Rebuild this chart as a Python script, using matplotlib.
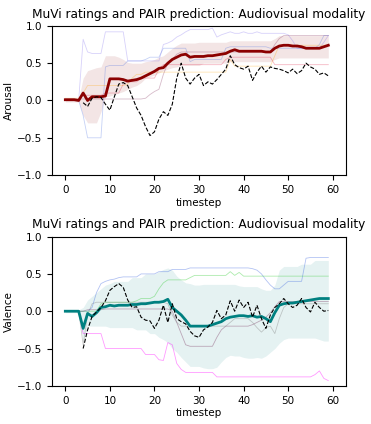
import matplotlib
matplotlib.use("Agg")
import matplotlib.pyplot as plt
import numpy as np

nan = np.nan
timestep = np.arange(60)

# ---- arousal (top) ----
arousal_pred = [nan, nan, nan, nan, -0.03, -0.08, 0.03, 0.05, 0.04, -0.05,
                -0.13, 0.05, 0.22, 0.24, 0.2, 0.05, -0.1, -0.2, -0.35, -0.47,
                -0.42, -0.25, -0.15, -0.2, -0.05, 0.3, 0.5, 0.3, 0.22, 0.3,
                0.35, 0.2, 0.25, 0.22, 0.28, 0.35, 0.42, 0.6, 0.48, 0.44,
                0.42, 0.46, 0.27, 0.38, 0.46, 0.38, 0.45, 0.43, 0.42, 0.4,
                0.37, 0.42, 0.36, 0.4, 0.5, 0.45, 0.42, 0.35, 0.37, 0.33]
arousal_mean = [0.01, 0.01, 0.01, 0.0, 0.1, 0.0, 0.05, 0.05, 0.05, 0.06,
                0.29, 0.29, 0.29, 0.28, 0.26, 0.27, 0.28, 0.3, 0.33, 0.36,
                0.39, 0.43, 0.44, 0.5, 0.55, 0.58, 0.61, 0.62, 0.58, 0.59,
                0.59, 0.59, 0.6, 0.6, 0.61, 0.62, 0.63, 0.66, 0.68, 0.66,
                0.66, 0.66, 0.66, 0.66, 0.66, 0.65, 0.65, 0.7, 0.73, 0.74,
                0.74, 0.73, 0.73, 0.72, 0.7, 0.7, 0.7, 0.7, 0.72, 0.74]
arousal_upper = [0.03, 0.03, 0.03, 0.03, 0.3, 0.4, 0.42, 0.44, 0.45, 0.6,
                 0.6, 0.6, 0.58, 0.55, 0.51, 0.5, 0.5, 0.5, 0.52, 0.53,
                 0.55, 0.58, 0.6, 0.65, 0.7, 0.74, 0.77, 0.77, 0.77, 0.77,
                 0.78, 0.78, 0.78, 0.78, 0.78, 0.78, 0.78, 0.8, 0.8, 0.8,
                 0.8, 0.8, 0.8, 0.8, 0.8, 0.8, 0.8, 0.83, 0.87, 0.87,
                 0.87, 0.87, 0.87, 0.87, 0.87, 0.87, 0.87, 0.87, 0.87, 0.87]
arousal_lower = [-0.02, -0.02, -0.02, -0.02, -0.2, -0.3, -0.3, -0.3, -0.15, 0.05,
                 0.06, 0.08, 0.1, 0.12, 0.15, 0.18, 0.2, 0.24, 0.3, 0.32,
                 0.34, 0.37, 0.4, 0.42, 0.44, 0.45, 0.47, 0.47, 0.47, 0.47,
                 0.47, 0.5, 0.5, 0.5, 0.5, 0.5, 0.5, 0.52, 0.52, 0.52,
                 0.52, 0.52, 0.52, 0.52, 0.52, 0.52, 0.52, 0.55, 0.57, 0.57,
                 0.57, 0.57, 0.57, 0.57, 0.57, 0.57, 0.57, 0.57, 0.57, 0.57]
arousal_raters = {
    "mediumslateblue": [0, 0, 0, 0, 0.82, 0.65, 0.63, 0.63, 0.63, 0.92,
                        0.92, 0.92, 0.92, 0.92, 0.53, 0.53, 0.53, 0.53, 0.53, 0.53,
                        0.53, 0.53, 0.75, 0.77, 0.8, 0.85, 0.88, 0.92, 0.95, 0.95,
                        0.95, 0.95, 0.95, 0.97, 0.85, 0.88, 0.9, 0.92, 0.9, 0.9,
                        0.92, 0.9, 0.9, 0.92, 0.9, 0.9, 0.9, 0.9, 0.9, 0.9,
                        0.88, 0.8, 0.7, 0.7, 0.7, 0.7, 0.7, 0.7, 0.78, 0.87],
    "royalblue": [0, 0, 0, 0, -0.2, -0.5, -0.5, -0.5, -0.5, 0.45,
                  0.47, 0.47, 0.47, 0.47, 0.53, 0.53, 0.53, 0.53, 0.55, 0.58,
                  0.58, 0.58, 0.7, 0.7, 0.7, 0.7, 0.7, 0.7, 0.52, 0.55,
                  0.55, 0.55, 0.55, 0.55, 0.55, 0.55, 0.7, 0.72, 0.72, 0.72,
                  0.72, 0.72, 0.72, 0.72, 0.72, 0.72, 0.7, 0.7, 0.7, 0.7,
                  0.7, 0.7, 0.7, 0.7, 0.7, 0.7, 0.7, 0.75, 0.87, 0.87],
    "orange": [0.03, 0.03, 0.03, 0.03, 0.1, 0.2, 0.2, 0.2, 0.2, 0.2,
               0.2, 0.2, 0.2, 0.2, 0.22, 0.3, 0.35, 0.35, 0.38, 0.38,
               0.38, 0.38, 0.38, 0.38, 0.38, 0.38, 0.38, 0.38, 0.38, 0.38,
               0.38, 0.38, 0.38, 0.38, 0.38, 0.38, 0.38, 0.55, 0.46, 0.46,
               0.46, 0.46, 0.46, 0.46, 0.46, 0.46, 0.46, 0.6, 0.74, 0.74,
               0.74, 0.74, 0.74, 0.74, 0.74, 0.74, 0.74, 0.74, 0.74, 0.74],
    "crimson": [0, 0, 0, 0, 0.07, 0.07, 0.07, 0.07, 0.07, 0.1,
                0.1, 0.1, 0.1, 0.22, 0.25, 0.25, 0.25, 0.3, 0.3, 0.3,
                0.3, 0.42, 0.48, 0.48, 0.48, 0.48, 0.48, 0.48, 0.48, 0.48,
                0.48, 0.48, 0.48, 0.48, 0.48, 0.48, 0.55, 0.58, 0.58, 0.58,
                0.58, 0.58, 0.58, 0.58, 0.58, 0.58, 0.58, 0.48, 0.48, 0.48,
                0.48, 0.48, 0.48, 0.48, 0.48, 0.48, 0.48, 0.48, 0.48, 0.48],
    "#7a1f4f": [0.02, 0.02, 0.02, 0.02, 0.02, 0.02, 0.02, 0.02, 0.02, 0.02,
                0.02, 0.02, 0.02, 0.02, 0.02, 0.02, 0.02, 0.02, 0.03, 0.08,
                0.12, 0.15, 0.35, 0.5, 0.55, 0.62, 0.65, 0.65, 0.65, 0.65,
                0.65, 0.65, 0.65, 0.65, 0.65, 0.65, 0.65, 0.65, 0.65, 0.65,
                0.65, 0.65, 0.65, 0.65, 0.65, 0.65, 0.65, 0.75, 0.83, 0.87,
                0.87, 0.87, 0.87, 0.87, 0.87, 0.87, 0.87, 0.87, 0.87, 0.87],
}

# ---- valence (bottom) ----
valence_pred = [nan, nan, nan, nan, -0.5, -0.25, -0.07, -0.01, 0.05, 0.14,
                0.28, 0.33, 0.37, 0.32, 0.15, 0.05, 0.06, -0.08, -0.12, -0.13,
                -0.23, -0.12, 0.08, -0.15, 0.1, -0.1, -0.14, -0.17, -0.27, -0.33,
                -0.35, -0.25, -0.21, -0.15, 0.01, -0.1, -0.05, 0.14, 0.0, 0.15,
                0.05, 0.12, -0.08, 0.08, -0.1, -0.23, -0.05, 0.05, 0.1, 0.17,
                0.1, 0.05, 0.08, 0.17, 0.05, -0.01, 0.12, 0.05, 0.0, 0.01]
valence_mean = [0.0, 0.0, 0.0, 0.0, -0.23, -0.03, -0.07, -0.02, 0.05, 0.06,
                0.08, 0.07, 0.08, 0.08, 0.08, 0.09, 0.09, 0.1, 0.1, 0.11,
                0.12, 0.12, 0.13, 0.16, 0.05, 0.0, -0.05, -0.12, -0.2, -0.2,
                -0.2, -0.2, -0.2, -0.18, -0.16, -0.14, -0.1, -0.08, -0.07, -0.06,
                -0.06, -0.07, -0.06, -0.08, -0.07, -0.1, -0.14, -0.02, 0.08, 0.1,
                0.11, 0.11, 0.12, 0.13, 0.14, 0.15, 0.16, 0.17, 0.17, 0.17]
valence_upper = [0.02, 0.02, 0.02, 0.02, 0.05, 0.15, 0.2, 0.25, 0.3, 0.35,
                 0.37, 0.4, 0.4, 0.4, 0.4, 0.45, 0.45, 0.45, 0.5, 0.5,
                 0.5, 0.53, 0.56, 0.58, 0.55, 0.47, 0.42, 0.38, 0.37, 0.35,
                 0.35, 0.36, 0.36, 0.36, 0.36, 0.36, 0.36, 0.36, 0.36, 0.34,
                 0.33, 0.33, 0.33, 0.33, 0.3, 0.28, 0.28, 0.35, 0.55, 0.6,
                 0.6, 0.6, 0.6, 0.63, 0.63, 0.63, 0.68, 0.68, 0.68, 0.68]
valence_lower = [-0.02, -0.02, -0.02, -0.02, -0.4, -0.2, -0.2, -0.2, -0.2, -0.2,
                 -0.22, -0.22, -0.22, -0.22, -0.22, -0.22, -0.25, -0.25, -0.25, -0.3,
                 -0.3, -0.35, -0.38, -0.42, -0.5, -0.55, -0.62, -0.68, -0.74, -0.74,
                 -0.74, -0.76, -0.77, -0.77, -0.75, -0.68, -0.62, -0.59, -0.6, -0.6,
                 -0.62, -0.63, -0.63, -0.62, -0.63, -0.6, -0.55, -0.5, -0.43, -0.38,
                 -0.36, -0.36, -0.36, -0.36, -0.36, -0.36, -0.36, -0.38, -0.4, -0.4]
valence_raters = {
    "royalblue": [0, 0, 0, 0, 0, 0, 0.05, 0.25, 0.37, 0.4,
                  0.42, 0.43, 0.45, 0.46, 0.46, 0.46, 0.46, 0.5, 0.5, 0.5,
                  0.5, 0.53, 0.53, 0.53, 0.56, 0.56, 0.56, 0.56, 0.58, 0.58,
                  0.58, 0.58, 0.58, 0.58, 0.58, 0.58, 0.58, 0.58, 0.58, 0.58,
                  0.58, 0.58, 0.57, 0.55, 0.5, 0.42, 0.35, 0.3, 0.3, 0.35,
                  0.4, 0.4, 0.4, 0.4, 0.71, 0.72, 0.72, 0.72, 0.72, 0.72],
    "limegreen": [0, 0, 0, 0, 0, 0, 0, 0, 0.1, 0.12,
                  0.12, 0.12, 0.12, 0.12, 0.12, 0.12, 0.14, 0.17, 0.17, 0.17,
                  0.2, 0.3, 0.38, 0.42, 0.42, 0.42, 0.42, 0.42, 0.45, 0.48,
                  0.48, 0.48, 0.48, 0.48, 0.48, 0.48, 0.48, 0.53, 0.48, 0.52,
                  0.47, 0.47, 0.47, 0.47, 0.47, 0.47, 0.47, 0.47, 0.47, 0.47,
                  0.47, 0.47, 0.47, 0.47, 0.47, 0.47, 0.47, 0.47, 0.47, 0.47],
    "magenta": [0, 0, 0, 0, -0.3, -0.3, -0.3, -0.3, -0.3, -0.5,
                -0.5, -0.5, -0.5, -0.5, -0.5, -0.5, -0.5, -0.5, -0.58, -0.58,
                -0.58, -0.65, -0.66, -0.42, -0.45, -0.7, -0.78, -0.82, -0.82, -0.82,
                -0.82, -0.82, -0.82, -0.82, -0.88, -0.88, -0.88, -0.88, -0.88, -0.88,
                -0.88, -0.88, -0.88, -0.88, -0.88, -0.88, -0.88, -0.88, -0.88, -0.88,
                -0.88, -0.88, -0.88, -0.88, -0.88, -0.88, -0.85, -0.8, -0.9, -0.93],
    "#7a3560": [0, 0, 0, 0, 0, 0.02, 0.02, 0.02, 0.02, 0.03,
                0.03, 0.03, 0.03, 0.03, 0.03, 0.03, 0.03, 0.03, 0.03, 0.03,
                0.03, 0.03, 0.03, 0.03, 0.0, -0.15, -0.3, -0.45, -0.47, -0.47,
                -0.47, -0.47, -0.47, -0.47, -0.35, -0.25, -0.2, -0.2, -0.2, -0.2,
                -0.2, -0.2, -0.18, -0.15, -0.12, -0.08, -0.02, 0.06, 0.13, 0.13,
                0.13, 0.13, 0.13, 0.13, 0.13, 0.13, 0.13, 0.13, 0.13, 0.13],
    "grey": [0, 0, 0, 0, -0.45, -0.05, 0.1, 0.12, 0.12, 0.12,
             0.12, 0.12, 0.12, 0.12, 0.12, 0.12, 0.12, 0.12, 0.12, 0.12,
             0.12, 0.12, 0.12, 0.1, -0.05, -0.15, -0.2, -0.2, -0.2, -0.2,
             -0.2, -0.2, -0.2, -0.2, -0.2, -0.2, -0.2, -0.15, -0.1, -0.1,
             -0.1, -0.1, -0.15, -0.22, -0.28, -0.22, -0.2, -0.3, -0.1, 0.05,
             0.1, 0.1, 0.1, 0.1, 0.1, 0.1, 0.1, 0.1, 0.1, 0.1],
}

title = "MuVi ratings and PAIR prediction: Audiovisual modality"

fig = plt.figure(figsize=(3.71, 4.24), dpi=100)
ax1 = fig.add_axes([0.140, 0.587, 0.793, 0.352])
ax2 = fig.add_axes([0.140, 0.090, 0.793, 0.352])

# top: arousal
for c, vals in arousal_raters.items():
    ax1.plot(timestep, vals, color=c, lw=0.6, alpha=0.3)
ax1.fill_between(timestep, arousal_lower, arousal_upper, color="darkred", alpha=0.1, lw=0)
ax1.plot(timestep, arousal_mean, color="darkred", lw=2)
ax1.plot(timestep, arousal_pred, color="black", ls="--", lw=0.8)
ax1.set_title(title, fontsize=8.7)
ax1.set_ylabel("Arousal", fontsize=7.5, labelpad=2)
ax1.set_xlabel("timestep", fontsize=7.5, labelpad=2)

# bottom: valence
for c, vals in valence_raters.items():
    ax2.plot(timestep, vals, color=c, lw=0.6, alpha=0.4)
ax2.fill_between(timestep, valence_lower, valence_upper, color="teal", alpha=0.1, lw=0)
ax2.plot(timestep, valence_mean, color="teal", lw=2)
ax2.plot(timestep, valence_pred, color="black", ls="--", lw=0.8)
ax2.set_title(title, fontsize=8.7)
ax2.set_ylabel("Valence", fontsize=7.5, labelpad=2)
ax2.set_xlabel("timestep", fontsize=7.5, labelpad=2)

for ax in (ax1, ax2):
    ax.set_ylim(-1, 1)
    ax.set_xlim(-3, 63)
    ax.set_xticks([0, 10, 20, 30, 40, 50, 60])
    ax.set_yticks([-1.0, -0.5, 0.0, 0.5, 1.0])
    ax.tick_params(labelsize=7.5)

fig.savefig("out.png", dpi=100)
